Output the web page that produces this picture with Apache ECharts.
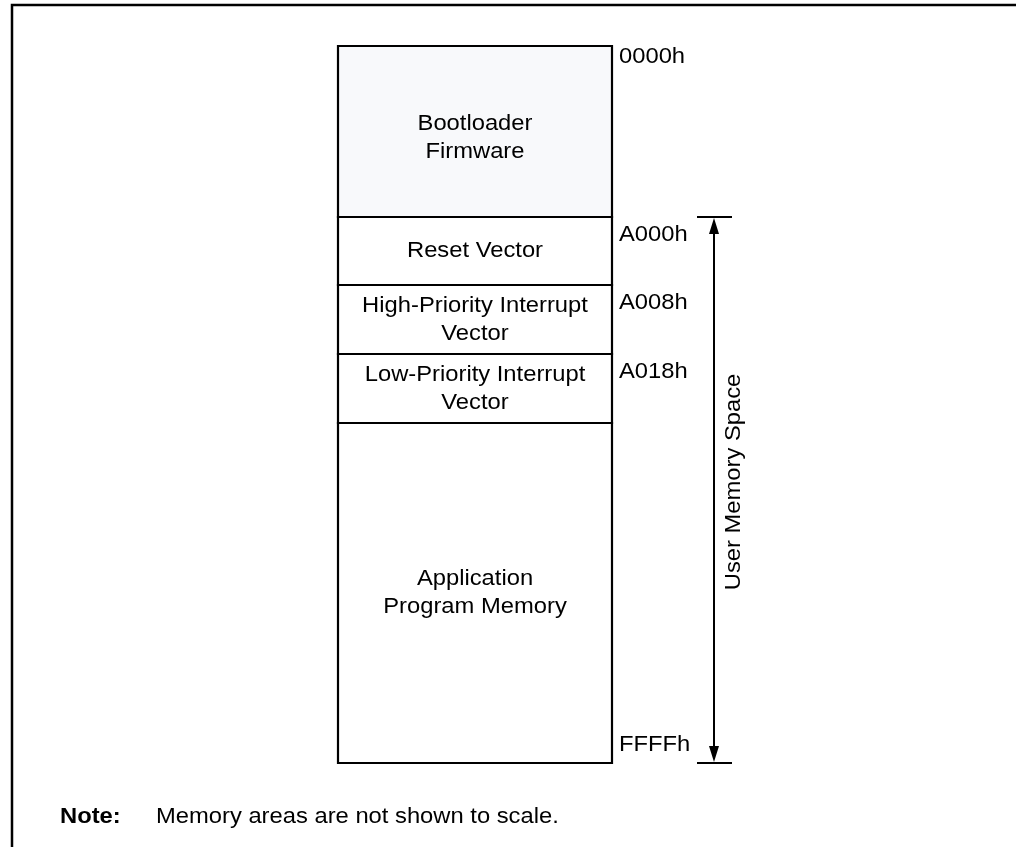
<!DOCTYPE html>
<html>
<head>
<meta charset="utf-8">
<script src="https://cdn.jsdelivr.net/npm/echarts@6/dist/echarts.min.js"></script>
<style>
html,body{margin:0;padding:0;background:#fff;}
#chart{width:1016px;height:847px;}
</style>
</head>
<body>
<div id="chart"></div>
<script>
// ---- data ----
const blockLabels = ['Bootloader\nFirmware', 'Reset Vector', 'High-Priority Interrupt\nVector', 'Low-Priority Interrupt\nVector', 'Application\nProgram Memory'];
const blockSizes = [171, 68, 69, 69, 340];          // drawing units (not to scale)
const startAddresses = ['0000h', 'A000h', 'A008h', 'A018h', ''];
const endAddress = 'FFFFh';
const userSpaceLabel = 'User Memory Space';
const userSpaceFirstBlock = 1;
const noteTitle = 'Note:';
const noteText = 'Memory areas are not shown to scale.';

// ---- build ----
const FONT = "'Liberation Sans', Arial, Helvetica, sans-serif";
const FS = 22;
const SX = 1.08;
const starts = [];
let acc = 0;
blockSizes.forEach(s => { starts.push(acc); acc += s; });
const total = acc;
const blockData = blockSizes.map((s, i) => [starts[i], starts[i] + s, i]);
const userData = [[starts[userSpaceFirstBlock], total]];

function renderBlock(params, api) {
  const i = api.value(2);
  const y0 = api.value(0), y1 = api.value(1);
  const p0 = api.coord([0, y0]);
  const p1 = api.coord([1, y1]);
  const children = [
    { type: 'rect', shape: { x: p0[0], y: p0[1], width: p1[0] - p0[0], height: p1[1] - p0[1] },
      style: { fill: i === 0 ? '#f8f9fb' : '#ffffff', stroke: '#000', lineWidth: 2.2 } },
    { type: 'text', x: (p0[0] + p1[0]) / 2, y: (p0[1] + p1[1]) / 2 + (i === 0 ? 6 : 0), scaleX: SX,
      style: { text: blockLabels[i], fontFamily: FONT, fontSize: FS, lineHeight: 28, fill: '#000',
               align: 'center', verticalAlign: 'middle' } }
  ];
  if (startAddresses[i]) {
    children.push({ type: 'text', x: p1[0] + 7, y: p0[1] + (i === 0 ? 11 : 18), scaleX: SX,
      style: { text: startAddresses[i], fontFamily: FONT, fontSize: FS, fill: '#000', align: 'left', verticalAlign: 'middle' } });
  }
  if (i === blockSizes.length - 1) {
    children.push({ type: 'text', x: p1[0] + 7, y: p1[1] - 18, scaleX: SX,
      style: { text: endAddress, fontFamily: FONT, fontSize: FS, fill: '#000', align: 'left', verticalAlign: 'middle' } });
  }
  return { type: 'group', children };
}

function renderUser(params, api) {
  const top = api.coord([1, api.value(0)]);
  const bot = api.coord([1, api.value(1)]);
  const ax = top[0] + 102;
  const t = top[1], b = bot[1];
  return { type: 'group', children: [
    { type: 'line', shape: { x1: ax - 17, y1: t, x2: ax + 18, y2: t }, style: { stroke: '#000', lineWidth: 2 } },
    { type: 'line', shape: { x1: ax - 17, y1: b, x2: ax + 18, y2: b }, style: { stroke: '#000', lineWidth: 2 } },
    { type: 'line', shape: { x1: ax, y1: t + 10, x2: ax, y2: b - 10 }, style: { stroke: '#000', lineWidth: 2 } },
    { type: 'polygon', shape: { points: [[ax, t + 1], [ax - 5, t + 17], [ax + 5, t + 17]] }, style: { fill: '#000' } },
    { type: 'polygon', shape: { points: [[ax, b - 1], [ax - 5, b - 17], [ax + 5, b - 17]] }, style: { fill: '#000' } },
    { type: 'text', x: ax + 20, y: (t + b) / 2 - 8, rotation: Math.PI / 2, scaleX: SX,
      style: { text: userSpaceLabel, fontFamily: FONT, fontSize: FS, fill: '#000', align: 'center', verticalAlign: 'middle' } }
  ]};
}

const chart = echarts.init(document.getElementById('chart'));
chart.setOption({
  animation: false,
  backgroundColor: '#fff',
  grid: { left: 338, top: 46, width: 274, height: 717 },
  xAxis: { type: 'value', min: 0, max: 1, show: false },
  yAxis: { type: 'value', min: 0, max: total, inverse: true, show: false },
  graphic: [
    { type: 'rect', shape: { x: 12, y: 5, width: 1100, height: 900 }, style: { fill: 'none', stroke: '#000', lineWidth: 2.5 }, silent: true },
    { type: 'text', x: 60, y: 817, scaleX: SX, style: { text: noteTitle, fontFamily: FONT, fontSize: FS, fontWeight: 'bold', fill: '#000', verticalAlign: 'middle' } },
    { type: 'text', x: 156, y: 817, scaleX: SX, style: { text: noteText, fontFamily: FONT, fontSize: FS, fill: '#000', verticalAlign: 'middle' } }
  ],
  series: [
    { type: 'custom', renderItem: renderBlock, data: blockData, clip: false, silent: true,
      encode: { y: [0, 1] } },
    { type: 'custom', renderItem: renderUser, data: userData, clip: false, silent: true,
      encode: { y: [0, 1] } }
  ]
});
</script>
</body>
</html>
